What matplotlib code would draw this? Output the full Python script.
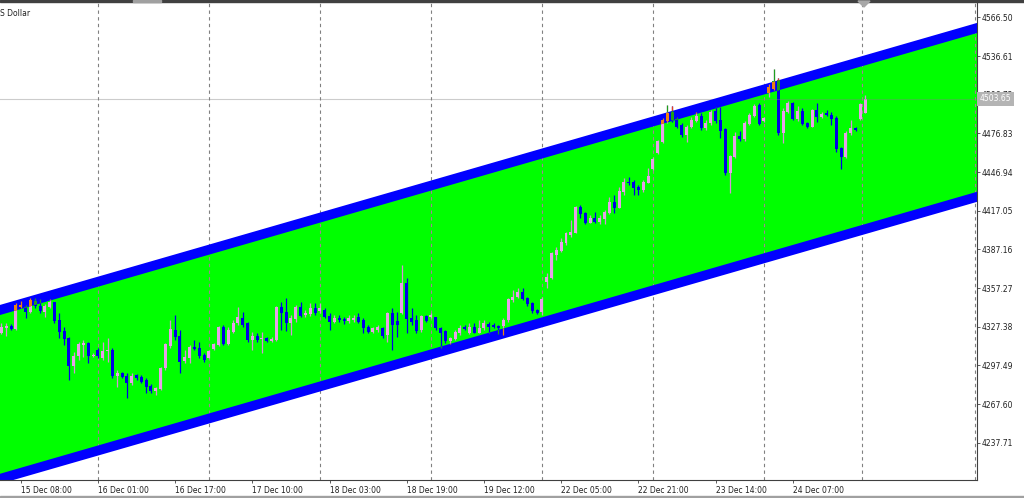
import numpy as np
import matplotlib
matplotlib.use("Agg")
import matplotlib.pyplot as plt
from matplotlib.patches import Polygon, Rectangle
from matplotlib import transforms

plt.rcParams["font.family"] = ["DejaVu Sans"]

# hourly bars, index 0 = 15 Dec 08:00
bar_index = list(range(-4, 176))
opens = [4322.7, 4326.6, 4327.9, 4325.6, 4342.8, 4342.4, 4339.0, 4347.0, 4343.6, 4339.0,
         4342.8, 4346.2, 4332.5, 4324.0, 4318.9, 4297.2, 4304.7, 4313.4, 4314.5, 4304.7,
         4309.3, 4302.9, 4308.3, 4309.1, 4289.5, 4291.3, 4289.5, 4283.6, 4289.8, 4288.2,
         4286.2, 4281.5, 4277.9, 4278.9, 4295.2, 4312.4, 4324.8, 4320.4, 4300.8, 4303.4,
         4311.9, 4310.7, 4305.3, 4303.4, 4310.4, 4313.2, 4327.4, 4313.8, 4323.5, 4330.0,
         4334.3, 4330.0, 4317.1, 4320.2, 4317.6, 4318.4, 4316.3, 4317.1, 4342.8, 4338.5,
         4330.0, 4333.1, 4342.8, 4336.4, 4337.0, 4341.6, 4339.5, 4340.3, 4335.6, 4331.2,
         4333.9, 4333.3, 4331.8, 4332.5, 4334.6, 4332.5, 4327.4, 4323.5, 4324.8, 4326.1,
         4320.9, 4337.7, 4332.0, 4337.7, 4360.9, 4333.9, 4332.5, 4324.8, 4335.6, 4334.9,
         4334.9, 4326.4, 4324.0, 4316.3, 4317.9, 4322.3, 4326.9, 4322.7, 4327.4, 4322.7,
         4326.1, 4329.2, 4328.7, 4327.9, 4328.1, 4332.5, 4348.0, 4350.1, 4354.4, 4349.3,
         4345.4, 4340.3, 4338.5, 4362.1, 4364.8, 4382.8, 4386.1, 4391.8, 4398.2, 4400.0,
         4420.1, 4415.0, 4407.7, 4411.6, 4408.5, 4410.4, 4415.0, 4424.0, 4419.3, 4431.7,
         4439.4, 4439.0, 4435.6, 4433.0, 4438.7, 4449.0, 4461.8, 4470.3, 4486.3, 4493.5,
         4487.7, 4483.3, 4475.5, 4481.9, 4486.6, 4490.2, 4480.7, 4484.6, 4494.1, 4487.1,
         4479.9, 4446.4, 4458.3, 4474.8, 4472.2, 4484.0, 4490.2, 4498.7, 4486.6, 4508.0,
         4510.9, 4518.0, 4476.8, 4493.1, 4500.0, 4487.7, 4494.3, 4484.6, 4481.9, 4494.8,
         4489.2, 4492.3, 4491.0, 4488.4, 4465.3, 4458.3, 4476.8, 4481.2, 4487.7, 4492.8]
highs = [4330.0, 4330.5, 4329.2, 4345.4, 4347.2, 4344.1, 4349.3, 4349.3, 4348.5, 4344.9,
         4348.5, 4346.7, 4337.7, 4327.4, 4319.6, 4308.0, 4315.8, 4317.1, 4315.8, 4306.8,
         4310.7, 4315.8, 4318.4, 4310.7, 4293.9, 4292.6, 4291.3, 4291.3, 4290.8, 4290.0,
         4287.5, 4283.1, 4281.0, 4296.0, 4314.5, 4332.5, 4336.4, 4324.8, 4309.3, 4313.2,
         4317.1, 4315.8, 4306.8, 4309.3, 4315.0, 4328.1, 4328.7, 4327.4, 4332.5, 4342.8,
         4338.5, 4331.2, 4323.5, 4322.3, 4323.5, 4319.6, 4319.2, 4343.6, 4346.7, 4349.3,
         4336.4, 4344.1, 4346.7, 4340.3, 4345.4, 4345.9, 4345.4, 4341.6, 4337.7, 4336.4,
         4336.4, 4335.1, 4336.4, 4336.4, 4337.7, 4333.9, 4328.7, 4327.4, 4328.7, 4327.4,
         4338.5, 4341.6, 4339.0, 4375.1, 4364.8, 4341.6, 4336.4, 4336.4, 4336.4, 4337.7,
         4335.1, 4327.4, 4324.8, 4319.6, 4324.8, 4328.7, 4328.7, 4330.0, 4330.0, 4332.5,
         4332.5, 4331.2, 4330.0, 4328.7, 4333.9, 4349.3, 4355.7, 4357.0, 4357.0, 4350.6,
         4346.7, 4340.8, 4350.1, 4368.6, 4385.3, 4389.2, 4395.7, 4400.8, 4409.8, 4420.6,
         4421.4, 4416.3, 4413.7, 4416.3, 4413.7, 4417.6, 4427.8, 4429.1, 4435.6, 4442.1,
         4442.8, 4440.7, 4436.9, 4440.7, 4449.8, 4458.8, 4471.7, 4488.4, 4498.7, 4498.0,
         4489.7, 4484.6, 4483.3, 4489.7, 4493.5, 4492.5, 4487.1, 4494.8, 4497.2, 4497.4,
         4480.9, 4460.1, 4478.0, 4478.6, 4486.3, 4492.5, 4499.5, 4500.3, 4489.4, 4515.0,
         4526.3, 4519.4, 4496.4, 4501.8, 4501.3, 4498.0, 4496.4, 4485.6, 4495.6, 4500.0,
         4493.3, 4494.8, 4493.3, 4490.2, 4466.3, 4478.6, 4487.1, 4481.9, 4500.3, 4506.4]
lows = [4321.7, 4320.2, 4324.8, 4324.8, 4341.6, 4333.9, 4337.7, 4341.6, 4337.7, 4335.1,
        4341.6, 4330.5, 4318.4, 4313.2, 4286.2, 4291.3, 4301.6, 4304.2, 4299.5, 4303.7,
        4302.9, 4301.6, 4300.3, 4287.5, 4281.0, 4287.5, 4272.0, 4282.3, 4286.2, 4283.6,
        4275.9, 4276.3, 4274.6, 4278.4, 4293.9, 4310.7, 4317.1, 4291.8, 4299.0, 4299.0,
        4309.3, 4302.9, 4300.3, 4302.9, 4309.3, 4312.4, 4313.2, 4313.2, 4322.3, 4328.7,
        4327.4, 4315.8, 4309.3, 4315.8, 4307.3, 4315.8, 4315.8, 4316.6, 4324.8, 4324.3,
        4320.9, 4331.2, 4335.1, 4335.1, 4335.6, 4336.4, 4337.7, 4333.9, 4324.8, 4330.0,
        4331.2, 4329.2, 4330.0, 4331.2, 4330.0, 4322.7, 4322.7, 4322.7, 4323.5, 4318.4,
        4315.8, 4309.3, 4319.6, 4336.9, 4322.7, 4328.7, 4322.7, 4323.5, 4331.2, 4333.9,
        4324.8, 4310.7, 4314.5, 4313.8, 4317.1, 4320.9, 4324.8, 4321.7, 4322.3, 4322.3,
        4324.8, 4322.3, 4326.1, 4321.5, 4320.9, 4331.2, 4346.7, 4349.3, 4348.0, 4343.6,
        4337.7, 4337.2, 4336.4, 4357.0, 4364.0, 4378.9, 4385.3, 4390.5, 4396.9, 4399.6,
        4411.1, 4406.7, 4407.3, 4407.7, 4406.7, 4406.7, 4414.5, 4415.0, 4418.9, 4429.1,
        4436.9, 4429.1, 4429.1, 4431.7, 4438.2, 4448.5, 4460.8, 4469.6, 4484.6, 4485.8,
        4480.7, 4474.2, 4470.3, 4480.7, 4485.8, 4479.4, 4479.4, 4483.3, 4484.8, 4473.0,
        4444.6, 4430.9, 4457.8, 4470.9, 4470.9, 4483.3, 4489.4, 4483.3, 4485.6, 4505.0,
        4510.3, 4475.5, 4469.1, 4492.5, 4487.1, 4486.3, 4483.3, 4480.9, 4481.7, 4485.8,
        4488.7, 4490.2, 4483.3, 4462.4, 4449.0, 4457.8, 4475.5, 4478.6, 4487.1, 4492.5]
closes = [4326.9, 4328.1, 4325.8, 4344.1, 4344.4, 4339.0, 4348.0, 4343.4, 4339.5, 4343.4,
          4346.7, 4331.8, 4323.5, 4317.9, 4297.0, 4304.7, 4313.8, 4315.0, 4304.7, 4305.3,
          4304.7, 4308.6, 4309.6, 4289.3, 4291.3, 4288.7, 4283.6, 4289.5, 4287.5, 4284.8,
          4280.5, 4277.7, 4279.7, 4295.2, 4313.8, 4325.4, 4319.6, 4300.3, 4304.2, 4311.9,
          4310.1, 4304.7, 4301.6, 4308.6, 4314.0, 4327.4, 4313.8, 4324.8, 4330.0, 4335.1,
          4328.7, 4317.1, 4320.2, 4317.1, 4318.4, 4316.3, 4318.1, 4342.8, 4338.2, 4330.0,
          4333.9, 4342.8, 4335.9, 4337.7, 4341.6, 4337.7, 4342.0, 4335.1, 4331.2, 4333.9,
          4332.5, 4331.8, 4334.3, 4333.9, 4331.0, 4326.1, 4323.5, 4326.1, 4326.9, 4320.4,
          4337.7, 4328.7, 4328.7, 4360.9, 4333.1, 4331.2, 4324.3, 4335.6, 4332.0, 4336.4,
          4326.1, 4322.7, 4316.6, 4318.9, 4323.5, 4326.1, 4325.8, 4327.4, 4322.7, 4326.1,
          4330.0, 4327.4, 4326.9, 4326.6, 4332.5, 4348.5, 4350.6, 4354.4, 4348.8, 4344.7,
          4339.7, 4338.2, 4348.5, 4366.0, 4384.1, 4386.6, 4393.1, 4399.6, 4400.8, 4420.1,
          4414.5, 4407.7, 4411.6, 4408.5, 4411.6, 4416.3, 4424.0, 4418.9, 4432.5, 4439.4,
          4438.2, 4434.3, 4433.0, 4439.4, 4443.8, 4456.8, 4470.9, 4487.1, 4492.8, 4487.1,
          4481.9, 4475.5, 4481.9, 4487.1, 4490.4, 4480.7, 4485.0, 4493.5, 4486.3, 4478.6,
          4445.9, 4459.3, 4474.8, 4472.2, 4484.6, 4491.0, 4498.2, 4483.8, 4488.4, 4513.0,
          4517.5, 4476.8, 4494.1, 4500.0, 4487.7, 4494.3, 4484.0, 4481.9, 4494.8, 4489.2,
          4491.8, 4490.8, 4487.7, 4464.5, 4458.3, 4477.3, 4480.7, 4479.4, 4499.2, 4503.65]

time_label_bars = [0, 16, 32, 48, 64, 80, 96, 112, 128, 144, 160]
time_labels = ["15 Dec 08:00", "16 Dec 01:00", "16 Dec 17:00", "17 Dec 10:00",
               "18 Dec 03:00", "18 Dec 19:00", "19 Dec 12:00", "22 Dec 05:00",
               "22 Dec 21:00", "23 Dec 14:00", "24 Dec 07:00"]
separator_bars = [16, 39, 62, 85, 108, 131, 154, 174.3, 197.8]
price_ticks = [4566.50, 4536.61, 4506.72, 4476.83, 4446.94, 4417.05,
               4387.16, 4357.27, 4327.38, 4297.49, 4267.60, 4237.71]
last_price = 4503.65

# channel: two anchor bars, price of the upper and lower line at each
channel_bars = [-4.3, 198.2]
channel_upper = [4340.3, 4558.3]
channel_lower = [4209.8, 4427.8]
band_half = 3.9

fig = plt.figure(figsize=(10.24, 4.98), dpi=100)
ax = fig.add_axes([0, 18 / 498, 977 / 1024, 480 / 498])
ax.set_xlim(-4.29, 198.17)
ax.set_ylim(4208.9, 4579.9)
ymin, ymax = ax.get_ylim()

x = np.array(bar_index, dtype=float)
o = np.array(opens)
h = np.array(highs)
l = np.array(lows)
c = np.array(closes)
up = c >= o

xs = np.array(channel_bars)
hi = np.array(channel_upper)
lo = np.array(channel_lower)

# green body of the channel
green = Polygon(np.column_stack([np.r_[xs, xs[::-1]], np.r_[hi, lo[::-1]]]),
                closed=True, facecolor="#00ff00", edgecolor="none", zorder=1)
ax.add_patch(green)

# period separators (dashes look mauve over the green)
ax.vlines(separator_bars, ymin, ymax, colors="#808080", linestyles=(0, (3, 3)),
          linewidth=0.8, zorder=0.5)
sep_in = ax.vlines(separator_bars, ymin, ymax, colors="#a87c98", linestyles=(0, (3, 3)),
                   linewidth=0.8, zorder=1.5)
sep_in.set_clip_path(green)

ax.axhline(last_price, color="#808080", alpha=0.4, linewidth=0.8, zorder=2.5)


def draw_candles(bull_col, bear_col, wick_bull, wick_bear, z, clip=None):
    cols = np.where(up, bull_col, bear_col)
    wcols = np.where(up, wick_bull, wick_bear)
    wicks = ax.vlines(x, l, h, colors=list(wcols), linewidth=0.9, zorder=z)
    body_lo = np.minimum(o, c)
    body_h = np.maximum(np.abs(c - o), 0.6)
    bodies = ax.bar(x, body_h, bottom=body_lo, width=0.62, color=list(cols),
                    linewidth=0, zorder=z + 0.1)
    if clip is not None:
        wicks.set_clip_path(clip)
        for b in bodies:
            b.set_clip_path(clip)


draw_candles("#e8a0e8", "#0000e6", "#d890d8", "#0000e6", 2)

# blue borders of the channel
bands = []
for line in (hi, lo):
    pts = np.column_stack([np.r_[xs, xs[::-1]],
                           np.r_[line + band_half, (line - band_half)[::-1]]])
    p = Polygon(pts, closed=True, facecolor="#0000ff", edgecolor="none", zorder=3)
    ax.add_patch(p)
    bands.append(p)

# candles crossing the blue borders change colour
for p in bands:
    draw_candles("#ee8211", "#1e9e1e", "#ee8211", "#1e9e1e", 4, clip=p)

# and the bits poking out above the upper border
above = Polygon(np.column_stack([np.r_[xs, xs[::-1]],
                                 np.r_[hi + band_half, [ymax + 50, ymax + 50]]]),
                closed=True, facecolor="none", edgecolor="none")
ax.add_patch(above)
draw_candles("#1e9e1e", "#e8401e", "#1e9e1e", "#e8401e", 4, clip=above)

for s in ("left", "top"):
    ax.spines[s].set_visible(False)
for s in ("right", "bottom"):
    ax.spines[s].set_color("#404040")
    ax.spines[s].set_linewidth(0.8)
    ax.spines[s].set_zorder(6)

ax.yaxis.tick_right()
ax.set_yticks(price_ticks)
ax.set_yticklabels([f"{v:.2f}" for v in price_ticks])
ax.tick_params(axis="y", length=2.5, width=0.6, pad=1, labelsize=5.5,
               colors="#404040", labelcolor="#202020")
ax.set_xticks(time_label_bars)
ax.set_xticklabels(time_labels, ha="left")
ax.tick_params(axis="x", length=2.5, width=0.6, pad=1.5, labelsize=5.5,
               colors="#404040", labelcolor="#202020")

trans = transforms.blended_transform_factory(ax.transAxes, ax.transData)
ax.text(1.003, last_price, f"{last_price:.2f}", transform=trans, va="center", ha="left",
        fontsize=5.5, color="white", clip_on=False, zorder=10,
        bbox=dict(boxstyle="square,pad=0.32", fc="#b4b4b4", ec="none"))

fig.text(0.5 / 1024, 1 - 13.5 / 498, "S Dollar", va="center", ha="left",
         fontsize=5.5, color="#202020")

# window frame bits
fig.add_artist(Rectangle((0, 1 - 2 / 498), 1, 2 / 498, transform=fig.transFigure,
                         color="#404040", zorder=20))
fig.add_artist(Rectangle((133 / 1024, 1 - 2 / 498), 28 / 1024, 2 / 498,
                         transform=fig.transFigure, color="#a0a0a0", zorder=21))
fig.add_artist(Polygon([[858 / 1024, 1 - 1 / 498], [870 / 1024, 1 - 1 / 498],
                        [864 / 1024, 1 - 7 / 498]], closed=True,
                       transform=fig.transFigure, color="#a8a8a8", zorder=21))
fig.add_artist(Rectangle((0, 0), 1, 2.5 / 498, transform=fig.transFigure,
                         color="#a0a0a0", zorder=20))

fig.savefig("out.png", dpi=100)
